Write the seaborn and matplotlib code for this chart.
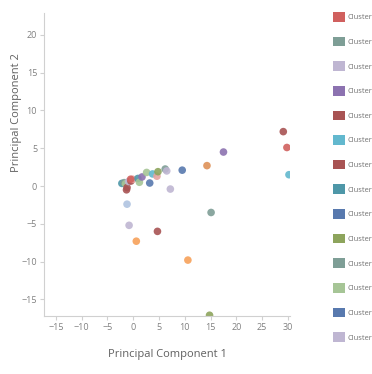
import matplotlib
matplotlib.use("Agg")
import matplotlib.pyplot as plt
from matplotlib.patches import Patch
import pandas as pd
import seaborn as sns

# cluster names and colours (legend order)
clusters = ["Cluster %d" % i for i in range(18)]
colors = ["#D0605E", "#7E9E96", "#BFB6D2", "#8C72B0", "#A85353", "#62B8CE",
          "#A85353", "#4E97A8", "#5879AE", "#8DA45C", "#7E9E96", "#A6C596",
          "#5879AE", "#BFB6D2", "#F7A15A", "#DE9158", "#E6A3A0", "#AFC3E0"]
n_legend = 14  # entries visible in the legend

# principal components
pc1 = [29.1, 29.8, 30.2, 17.5, 14.3, 9.5, 15.1, 10.6, 14.8, -1.2, -0.8, 4.7,
       0.6, 7.2, 3.2, -2.2, -1.75, -1.5, -1.2, -1.3, -0.9, -0.45, -0.1, 0.9,
       1.2, 1.7, 2.6, 3.75, 4.6, 4.8, 6.2, 6.5, -0.5]
pc2 = [7.2, 5.1, 1.5, 4.5, 2.7, 2.1, -3.5, -9.8, -17.1, -2.4, -5.2, -6.0,
       -7.3, -0.4, 0.4, 0.35, 0.45, 0.3, -0.2, -0.5, 0.6, 0.66, 0.9, 1.0,
       0.5, 1.2, 1.8, 1.6, 1.3, 1.9, 2.25, 2.0, 0.9]
labels = [4, 0, 5, 3, 15, 8, 1, 14, 9, 17, 2, 6,
          14, 13, 12, 7, 10, 11, 4, 6, 2, 6, 16, 7,
          11, 3, 11, 5, 16, 9, 1, 13, 0]

df = pd.DataFrame({"pc1": pc1, "pc2": pc2,
                   "cluster": [clusters[i] for i in labels]})
palette = dict(zip(clusters, colors))

sns.set_style("white")
plt.rcParams["font.family"] = ["Open Sans", "DejaVu Sans"]

fig = plt.figure(figsize=(3.72, 3.74), dpi=100)
ax = fig.add_axes([44 / 372, 1 - 316 / 374, 246 / 372, 303 / 374])

sns.scatterplot(data=df, x="pc1", y="pc2", hue="cluster", hue_order=clusters,
                palette=palette, s=30, alpha=0.9, linewidth=0, legend=False, ax=ax)

ax.set_xlim(-17.3, 30.4)
ax.set_ylim(-17.2, 22.9)
ax.set_xticks(range(-15, 31, 5))
ax.set_yticks(range(-15, 21, 5))
for s in ["top", "right"]:
    ax.spines[s].set_visible(False)
for s in ["left", "bottom"]:
    ax.spines[s].set_color("#d0d0d0")
    ax.spines[s].set_linewidth(0.8)
ax.tick_params(axis="both", labelsize=6.5, colors="#d0d0d0", labelcolor="#808080",
               length=3, width=0.8, pad=2, bottom=True, left=True)

ax.set_xlabel("Principal Component 1", fontsize=8, color="#606060")
ax.set_ylabel("Principal Component 2", fontsize=8, color="#606060")
ax.xaxis.set_label_coords(0.5, -0.11)
ax.yaxis.set_label_coords(-0.09, 0.67)

handles = [Patch(facecolor=palette[c], edgecolor="none") for c in clusters[:n_legend]]
fig.legend(handles, ["Cluster"] * n_legend, loc="upper left",
           bbox_to_anchor=(333 / 372, 1 - 12 / 374), frameon=False, fontsize=5.4,
           handlelength=1.6, handleheight=1.6, labelspacing=2.0,
           handletextpad=0.4, borderpad=0, borderaxespad=0, labelcolor="#707070")

fig.savefig("out.png", dpi=100)
